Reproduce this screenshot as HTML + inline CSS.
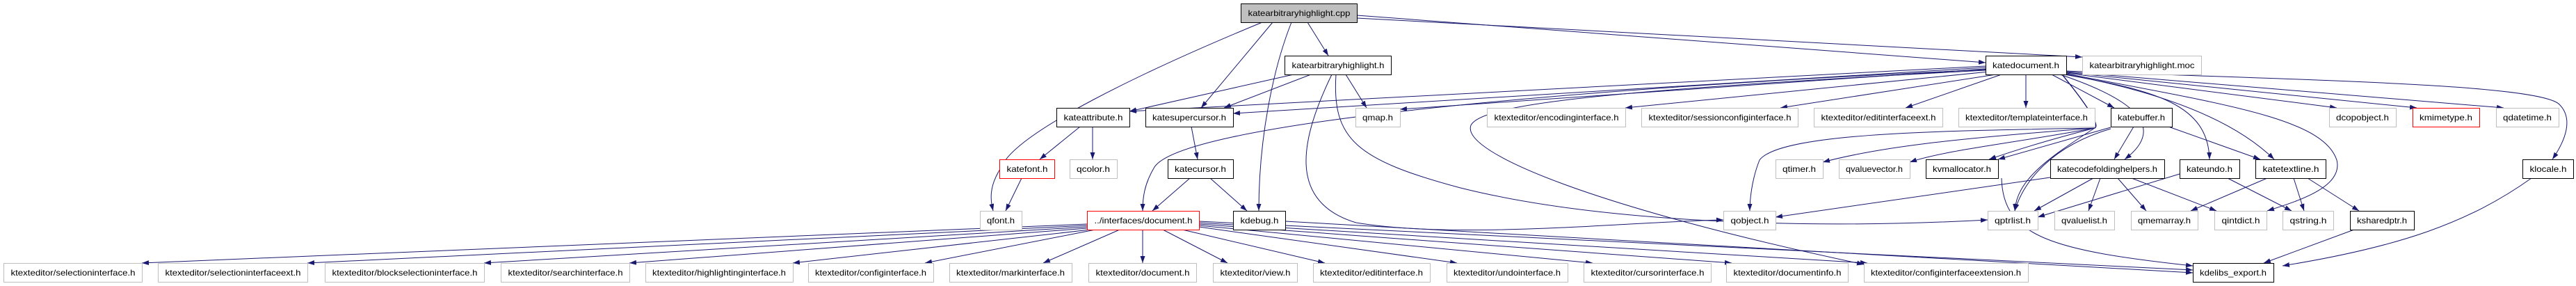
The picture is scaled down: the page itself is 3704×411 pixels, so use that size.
<!DOCTYPE html>
<html><head><meta charset="utf-8"><style>
html,body{margin:0;padding:0;background:#fff;}
svg{display:block;}
text{font-family:"Liberation Sans",sans-serif;font-size:12px;fill:#000;}
.g{fill:#fff;stroke:#bfbfbf;stroke-width:1}
.b{fill:#fff;stroke:#000;stroke-width:1}
.r{fill:#fff;stroke:#ff0000;stroke-width:1}
.e{fill:none;stroke:#191970;stroke-width:1}
</style></head><body>
<svg width="3704" height="411" viewBox="0 0 3704 411" xmlns="http://www.w3.org/2000/svg">
<defs><marker id="a" markerUnits="userSpaceOnUse" markerWidth="11" markerHeight="8" refX="10" refY="3.5" orient="auto"><path d="M0,0 L10,3.5 L0,7 z" fill="#191970"/></marker></defs>
<g class="e" marker-end="url(#a)">
<path d="M1815,32 C1650,100 1460,190 1440,240 C1420,270 1425,290 1428,303"/>
<path d="M1830,32 L1727,155"/>
<path d="M1880,32 L1910,80"/>
<path d="M1857,32 C1830,100 1810,200 1810,303"/>
<path d="M1951,22 L2855,90"/>
<path d="M1951,26 L2994,82"/>
<path d="M1860,107 L1624,160"/>
<path d="M1885,107 L1760,155"/>
<path d="M1935,107 L1965,155"/>
<path d="M1915,107 C1870,200 1850,290 1950,320 C2100,345 2350,318 2478,316"/>
<path d="M1921,107 C1915,200 1950,230 2100,270 C2300,320 2600,330 2858,316"/>
<path d="M2855,95 L1624,160"/>
<path d="M2855,97 L1773,163"/>
<path d="M2855,99 L2013,157"/>
<path d="M2855,100 C2200,130 1700,180 1660,240 C1645,265 1643,285 1643,303"/>
<path d="M2860,103 L2337,155"/>
<path d="M2870,107 L2560,155"/>
<path d="M2878,107 L2740,155"/>
<path d="M2913,107 L2913,155"/>
<path d="M2950,107 L3040,155"/>
<path d="M2971,105 L3360,155"/>
<path d="M2971,104 L3475,155"/>
<path d="M2971,103 L3600,155"/>
<path d="M2971,102 C3300,115 3650,120 3680,150 C3700,170 3690,200 3670,229"/>
<path d="M2965,107 C3000,150 3020,180 3012,184 C2800,200 2700,212 2621,233"/>
<path d="M2965,107 C3000,150 3020,180 3012,184 C2900,205 2800,215 2746,233"/>
<path d="M2965,107 C3000,150 3020,180 3012,184 C2950,200 2900,215 2860,229"/>
<path d="M2965,107 C3000,150 3020,180 3012,184 C2800,188 2560,190 2530,230 C2518,260 2516,290 2516,303"/>
<path d="M2965,107 C3000,150 3020,180 3012,184 C2940,230 2900,260 2897,303"/>
<path d="M2962,107 C3060,140 3120,180 3055,229"/>
<path d="M2968,107 C3100,130 3175,150 3177,229"/>
<path d="M2971,107 C3150,140 3230,190 3270,229"/>
<path d="M2971,106 C3200,150 3340,170 3360,230 C3370,270 3300,290 3260,303"/>
<path d="M2855,101 C2300,130 2130,150 2115,180 C2100,220 2300,300 2680,380"/>
<path d="M1553,182 L1495,229"/>
<path d="M1571,182 L1571,229"/>
<path d="M1469,256 L1446,303"/>
<path d="M1713,182 L1722,229"/>
<path d="M1711,256 L1657,303"/>
<path d="M1740,256 L1793,303"/>
<path d="M1848,318 L3153,392"/>
<path d="M1563,322 L204,378"/>
<path d="M1563,324 L442,378"/>
<path d="M1563,326 L696,378"/>
<path d="M1563,328 L905,378"/>
<path d="M1568,330 L1140,378"/>
<path d="M1575,330 L1330,378"/>
<path d="M1610,330 L1500,378"/>
<path d="M1643,330 L1643,378"/>
<path d="M1672,330 L1765,378"/>
<path d="M1700,330 L1905,378"/>
<path d="M1724,326 L2095,378"/>
<path d="M1724,324 L2290,378"/>
<path d="M1724,322 L2490,378"/>
<path d="M1724,320 L2685,378"/>
<path d="M1724,318 L3153,388"/>
<path d="M3068,182 L3040,229"/>
<path d="M3118,182 L3250,229"/>
<path d="M3035,183 L2873,229"/>
<path d="M3035,185 C2950,210 2910,260 2897,303"/>
<path d="M2948,255 L2553,312"/>
<path d="M3010,256 L2925,303"/>
<path d="M3020,256 L3003,303"/>
<path d="M3045,256 L3086,303"/>
<path d="M3065,256 L3187,303"/>
<path d="M3134,250 L2930,312"/>
<path d="M3203,256 L3295,303"/>
<path d="M3260,256 L3150,303"/>
<path d="M3298,256 L3313,303"/>
<path d="M3318,256 L3392,303"/>
<path d="M3385,330 L3255,378"/>
<path d="M3640,256 C3550,320 3450,355 3282,382"/>
<path d="M2878,256 C2880,340 2950,360 3153,382"/>
</g>
<g text-anchor="middle">
<rect x="1784.5" y="5.5" width="167" height="27" fill="#bfbfbf" stroke="#000"/><text x="1868" y="23" textLength="147" lengthAdjust="spacingAndGlyphs">katearbitraryhighlight.cpp</text>
<rect class="b" x="1847.5" y="80.5" width="153" height="27"/><text x="1924" y="98" textLength="133" lengthAdjust="spacingAndGlyphs">katearbitraryhighlight.h</text>
<rect class="b" x="2855.5" y="80.5" width="116" height="27"/><text x="2913" y="98" textLength="96" lengthAdjust="spacingAndGlyphs">katedocument.h</text>
<rect class="g" x="2994.5" y="80.5" width="171" height="27"/><text x="3080" y="98" textLength="151" lengthAdjust="spacingAndGlyphs">katearbitraryhighlight.moc</text>
<rect class="b" x="1519.5" y="155.5" width="105" height="27"/><text x="1572" y="173" textLength="85" lengthAdjust="spacingAndGlyphs">kateattribute.h</text>
<rect class="b" x="1647.5" y="155.5" width="126" height="27"/><text x="1710" y="173" textLength="106" lengthAdjust="spacingAndGlyphs">katesupercursor.h</text>
<rect class="g" x="1949.5" y="155.5" width="64" height="27"/><text x="1981" y="173" textLength="44" lengthAdjust="spacingAndGlyphs">qmap.h</text>
<rect class="g" x="2138.5" y="155.5" width="199" height="27"/><text x="2238" y="173" textLength="179" lengthAdjust="spacingAndGlyphs">ktexteditor/encodinginterface.h</text>
<rect class="g" x="2360.5" y="155.5" width="225" height="27"/><text x="2473" y="173" textLength="205" lengthAdjust="spacingAndGlyphs">ktexteditor/sessionconfiginterface.h</text>
<rect class="g" x="2608.5" y="155.5" width="185" height="27"/><text x="2701" y="173" textLength="165" lengthAdjust="spacingAndGlyphs">ktexteditor/editinterfaceext.h</text>
<rect class="g" x="2816.5" y="155.5" width="196" height="27"/><text x="2914" y="173" textLength="176" lengthAdjust="spacingAndGlyphs">ktexteditor/templateinterface.h</text>
<rect class="b" x="3035.5" y="155.5" width="88" height="27"/><text x="3079" y="173" textLength="68" lengthAdjust="spacingAndGlyphs">katebuffer.h</text>
<rect class="g" x="3349.5" y="155.5" width="96" height="27"/><text x="3397" y="173" textLength="76" lengthAdjust="spacingAndGlyphs">dcopobject.h</text>
<rect class="r" x="3469.5" y="155.5" width="96" height="27"/><text x="3517" y="173" textLength="76" lengthAdjust="spacingAndGlyphs">kmimetype.h</text>
<rect class="g" x="3589.5" y="155.5" width="90" height="27"/><text x="3634" y="173" textLength="70" lengthAdjust="spacingAndGlyphs">qdatetime.h</text>
<rect class="r" x="1437.5" y="229.5" width="79" height="27"/><text x="1477" y="247" textLength="59" lengthAdjust="spacingAndGlyphs">katefont.h</text>
<rect class="g" x="1538.5" y="229.5" width="68" height="27"/><text x="1572" y="247" textLength="48" lengthAdjust="spacingAndGlyphs">qcolor.h</text>
<rect class="b" x="1679.5" y="229.5" width="94" height="27"/><text x="1726" y="247" textLength="74" lengthAdjust="spacingAndGlyphs">katecursor.h</text>
<rect class="g" x="2553.5" y="229.5" width="68" height="27"/><text x="2587" y="247" textLength="48" lengthAdjust="spacingAndGlyphs">qtimer.h</text>
<rect class="g" x="2644.5" y="229.5" width="102" height="27"/><text x="2695" y="247" textLength="82" lengthAdjust="spacingAndGlyphs">qvaluevector.h</text>
<rect class="b" x="2769.5" y="229.5" width="104" height="27"/><text x="2821" y="247" textLength="84" lengthAdjust="spacingAndGlyphs">kvmallocator.h</text>
<rect class="b" x="2948.5" y="229.5" width="164" height="27"/><text x="3030" y="247" textLength="144" lengthAdjust="spacingAndGlyphs">katecodefoldinghelpers.h</text>
<rect class="b" x="3134.5" y="229.5" width="86" height="27"/><text x="3177" y="247" textLength="66" lengthAdjust="spacingAndGlyphs">kateundo.h</text>
<rect class="b" x="3243.5" y="229.5" width="101" height="27"/><text x="3294" y="247" textLength="81" lengthAdjust="spacingAndGlyphs">katetextline.h</text>
<rect class="b" x="3627.5" y="229.5" width="73" height="27"/><text x="3664" y="247" textLength="53" lengthAdjust="spacingAndGlyphs">klocale.h</text>
<rect class="g" x="1409.5" y="303.5" width="60" height="27"/><text x="1439" y="321" textLength="40" lengthAdjust="spacingAndGlyphs">qfont.h</text>
<rect class="r" x="1563.5" y="303.5" width="161" height="27"/><text x="1644" y="321" textLength="141" lengthAdjust="spacingAndGlyphs">../interfaces/document.h</text>
<rect class="b" x="1773.5" y="303.5" width="75" height="27"/><text x="1811" y="321" textLength="55" lengthAdjust="spacingAndGlyphs">kdebug.h</text>
<rect class="g" x="2478.5" y="303.5" width="75" height="27"/><text x="2516" y="321" textLength="55" lengthAdjust="spacingAndGlyphs">qobject.h</text>
<rect class="g" x="2858.5" y="303.5" width="72" height="27"/><text x="2894" y="321" textLength="52" lengthAdjust="spacingAndGlyphs">qptrlist.h</text>
<rect class="g" x="2954.5" y="303.5" width="86" height="27"/><text x="2997" y="321" textLength="66" lengthAdjust="spacingAndGlyphs">qvaluelist.h</text>
<rect class="g" x="3064.5" y="303.5" width="96" height="27"/><text x="3112" y="321" textLength="76" lengthAdjust="spacingAndGlyphs">qmemarray.h</text>
<rect class="g" x="3184.5" y="303.5" width="75" height="27"/><text x="3222" y="321" textLength="55" lengthAdjust="spacingAndGlyphs">qintdict.h</text>
<rect class="g" x="3282.5" y="303.5" width="73" height="27"/><text x="3319" y="321" textLength="53" lengthAdjust="spacingAndGlyphs">qstring.h</text>
<rect class="b" x="3379.5" y="303.5" width="92" height="27"/><text x="3425" y="321" textLength="72" lengthAdjust="spacingAndGlyphs">ksharedptr.h</text>
<rect class="g" x="5.5" y="378.5" width="199" height="27"/><text x="105" y="396" textLength="179" lengthAdjust="spacingAndGlyphs">ktexteditor/selectioninterface.h</text>
<rect class="g" x="227.5" y="378.5" width="215" height="27"/><text x="335" y="396" textLength="195" lengthAdjust="spacingAndGlyphs">ktexteditor/selectioninterfaceext.h</text>
<rect class="g" x="467.5" y="378.5" width="229" height="27"/><text x="582" y="396" textLength="209" lengthAdjust="spacingAndGlyphs">ktexteditor/blockselectioninterface.h</text>
<rect class="g" x="720.5" y="378.5" width="185" height="27"/><text x="813" y="396" textLength="165" lengthAdjust="spacingAndGlyphs">ktexteditor/searchinterface.h</text>
<rect class="g" x="928.5" y="378.5" width="212" height="27"/><text x="1034" y="396" textLength="192" lengthAdjust="spacingAndGlyphs">ktexteditor/highlightinginterface.h</text>
<rect class="g" x="1162.5" y="378.5" width="180" height="27"/><text x="1252" y="396" textLength="160" lengthAdjust="spacingAndGlyphs">ktexteditor/configinterface.h</text>
<rect class="g" x="1365.5" y="378.5" width="176" height="27"/><text x="1453" y="396" textLength="156" lengthAdjust="spacingAndGlyphs">ktexteditor/markinterface.h</text>
<rect class="g" x="1565.5" y="378.5" width="155" height="27"/><text x="1643" y="396" textLength="135" lengthAdjust="spacingAndGlyphs">ktexteditor/document.h</text>
<rect class="g" x="1744.5" y="378.5" width="121" height="27"/><text x="1805" y="396" textLength="101" lengthAdjust="spacingAndGlyphs">ktexteditor/view.h</text>
<rect class="g" x="1888.5" y="378.5" width="168" height="27"/><text x="1972" y="396" textLength="148" lengthAdjust="spacingAndGlyphs">ktexteditor/editinterface.h</text>
<rect class="g" x="2080.5" y="378.5" width="174" height="27"/><text x="2167" y="396" textLength="154" lengthAdjust="spacingAndGlyphs">ktexteditor/undointerface.h</text>
<rect class="g" x="2277.5" y="378.5" width="183" height="27"/><text x="2369" y="396" textLength="163" lengthAdjust="spacingAndGlyphs">ktexteditor/cursorinterface.h</text>
<rect class="g" x="2482.5" y="378.5" width="175" height="27"/><text x="2570" y="396" textLength="155" lengthAdjust="spacingAndGlyphs">ktexteditor/documentinfo.h</text>
<rect class="g" x="2680.5" y="378.5" width="236" height="27"/><text x="2798" y="396" textLength="216" lengthAdjust="spacingAndGlyphs">ktexteditor/configinterfaceextension.h</text>
<rect class="b" x="3153.5" y="378.5" width="116" height="27"/><text x="3211" y="396" textLength="96" lengthAdjust="spacingAndGlyphs">kdelibs_export.h</text>
</g>
</svg>
</body></html>
